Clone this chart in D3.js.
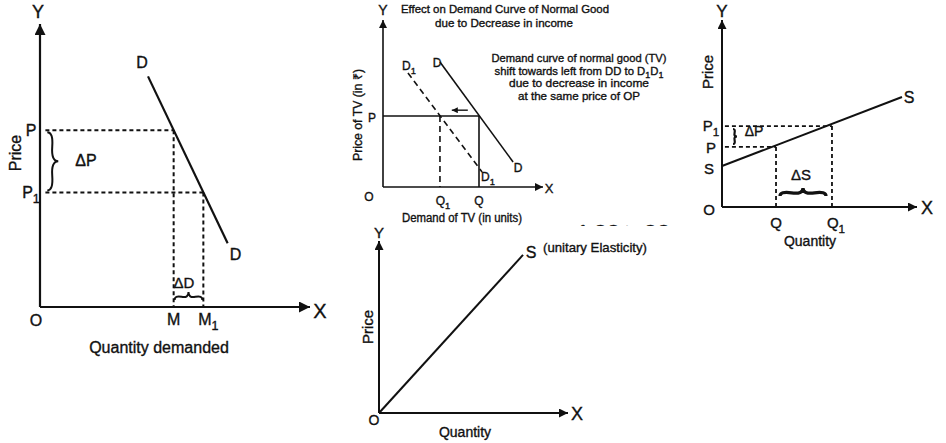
<!DOCTYPE html>
<html><head><meta charset="utf-8">
<script src="https://cdn.jsdelivr.net/npm/d3@7"></script>
<style>
html,body{margin:0;padding:0;background:#fff;}
svg{display:block;}
text{font-family:"Liberation Sans",Arial,Helvetica,sans-serif;fill:#111;stroke:#111;stroke-width:0.35px;}
</style></head>
<body><svg id="c" width="946" height="443"></svg>
<script>
// ---------- DATA ----------
// Panel 1: price elasticity of demand
const demandLine = [{q:4.0,p:8.15},{q:6.95,p:2.25}];
const demandPrices = [{label:"P",sub:"",p:6.25,q:4.95},{label:"P",sub:"1",p:4.05,q:6.05}];
const demandQtyLabels = [{label:"M",sub:"",q:4.95},{label:"M",sub:"1",q:6.05}];
// Panel 2: demand shift of a normal good
const demandDD = [{q:3.56,p:7.49},{q:8.13,p:1.5}];
const demandD1D1 = [{q:1.56,p:6.83},{q:6.19,p:0.9}];
const tvPrice = 4.25;
const tvQty = [{label:"Q",sub:"1",q:3.56},{label:"Q",sub:"",q:6.0}];
const shiftArrow = [{q:5.3,p:4.6},{q:4.3,p:4.6}];
const titleLines = ["Effect on Demand Curve of Normal Good","due to Decrease in income"];
const noteLines = ["Demand curve of normal good (TV)","shift towards left from DD to D\u2081D\u2081","due to decrease in income","at the same price of OP"];
// Panel 3: supply elasticity
const supplyLine = [{q:0,p:2.19},{q:9.23,p:5.88}];
const supplyPrices = [{label:"P",sub:"1",p:4.33,q:5.64},{label:"P",sub:"",p:3.21,q:2.77}];
const supplyQtyLabels = [{label:"Q",sub:"",q:2.77},{label:"Q",sub:"1",q:5.64}];
// Panel 4: unitary elasticity supply
const unitarySupply = [{q:0,p:0},{q:7.62,p:9.19}];

// ---------- SETUP ----------
const svg = d3.select("#c");
const ink = "#111";
const defs = svg.append("defs");
function marker(id, w, h){
  defs.append("marker").attr("id",id).attr("viewBox","0 0 10 10")
    .attr("refX",10).attr("refY",5).attr("markerUnits","userSpaceOnUse")
    .attr("markerWidth",w).attr("markerHeight",h).attr("orient","auto")
    .append("path").attr("d","M0,0 L10,5 L0,10 Z").attr("fill",ink);
}
marker("arrBig",15,11); marker("arrMed",13,9); marker("arrSmall",11,8); marker("arrTiny",8,6);
defs.append("clipPath").attr("id","cut").append("rect").attr("x",520).attr("y",0).attr("width",200).attr("height",226);

function txt(g,x,y,main,sub,size,anchor,extra){
  const t = g.append("text").attr("x",x).attr("y",y).attr("font-size",size)
    .attr("text-anchor",anchor||"middle");
  t.append("tspan").text(main);
  if(sub) t.append("tspan").attr("font-size",size*0.78).attr("dy",size*0.3).text(sub);
  if(extra) extra(t);
  return t;
}
function brace(x1,y1,x2,y2,w,q){
  q = q||0.6;
  let dx=x1-x2, dy=y1-y2; const len=Math.sqrt(dx*dx+dy*dy); dx/=len; dy/=len;
  const qx1=x1+q*w*dy, qy1=y1-q*w*dx;
  const qx2=(x1-.25*len*dx)+(1-q)*w*dy, qy2=(y1-.25*len*dy)-(1-q)*w*dx;
  const tx1=(x1-.5*len*dx)+w*dy, ty1=(y1-.5*len*dy)-w*dx;
  const qx3=x2+q*w*dy, qy3=y2-q*w*dx;
  const qx4=(x1-.75*len*dx)+(1-q)*w*dy, qy4=(y1-.75*len*dy)-(1-q)*w*dx;
  return `M${x1},${y1} Q${qx1},${qy1} ${qx2},${qy2} T${tx1},${ty1} M${x2},${y2} Q${qx3},${qy3} ${qx4},${qy4} T${tx1},${ty1}`;
}
function axes(g,x,y,sw,mk){
  g.append("line").attr("x1",x(0)).attr("y1",y(0)).attr("x2",x(0)).attr("y2",y(10))
    .attr("stroke",ink).attr("stroke-width",sw).attr("marker-end",`url(#${mk})`);
  g.append("line").attr("x1",x(0)).attr("y1",y(0)).attr("x2",x(10)).attr("y2",y(0))
    .attr("stroke",ink).attr("stroke-width",sw).attr("marker-end",`url(#${mk})`);
}
function seg(g,x,y,data,sw,dash){
  const l = d3.line().x(d=>x(d.q)).y(d=>y(d.p));
  return g.append("path").attr("d",l(data)).attr("fill","none").attr("stroke",ink)
    .attr("stroke-width",sw).attr("stroke-dasharray",dash||null);
}

// ---------- PANEL 1 ----------
{
  const g = svg.append("g");
  const x = d3.scaleLinear().domain([0,10]).range([40,310]);
  const y = d3.scaleLinear().domain([0,10]).range([307,24]);
  axes(g,x,y,2.2,"arrBig");
  seg(g,x,y,demandLine,2.2);
  demandPrices.forEach(d=>{
    seg(g,x,y,[{q:0.2,p:d.p},{q:d.q,p:d.p}],2,"4,3");
    seg(g,x,y,[{q:d.q,p:d.p},{q:d.q,p:0}],2,"4,3");
    txt(g,x(0)-9,y(d.p)+6,d.label,d.sub,16,"middle");
  });
  demandQtyLabels.forEach(d=>txt(g,x(d.q)+(d.sub?5:0),325,d.label,d.sub,16,"middle"));
  g.append("path").attr("d",brace(x(0.27),y(demandPrices[0].p)+2,x(0.27),y(demandPrices[1].p)-2,-11,0.55))
    .attr("fill","none").attr("stroke",ink).attr("stroke-width",2);
  txt(g,86,166,"\u0394P","",16,"middle");
  g.append("path").attr("d",brace(x(demandQtyLabels[0].q)+1,300,x(demandQtyLabels[1].q)-1,300,-8,0.6))
    .attr("fill","none").attr("stroke",ink).attr("stroke-width",2);
  txt(g,184,288,"\u0394D","",15,"middle");
  txt(g,x(demandLine[0].q)-6,68,"D","",16,"middle");
  txt(g,x(demandLine[1].q)+8,260,"D","",16,"middle");
  txt(g,x(0)-2,18,"Y","",18,"middle");
  txt(g,320,318,"X","",20,"middle");
  txt(g,36,326,"O","",16,"middle");
  txt(g,159,353,"Quantity demanded","",16,"middle");
  txt(g,0,0,"Price","",16,"middle",t=>t.attr("transform","translate(21,153) rotate(-90)"));
}

// ---------- PANEL 2 ----------
{
  const g = svg.append("g");
  const x = d3.scaleLinear().domain([0,10]).range([383,543]);
  const y = d3.scaleLinear().domain([0,10]).range([187,20]);
  axes(g,x,y,1.6,"arrSmall");
  seg(g,x,y,[{q:0,p:tvPrice},{q:tvQty[1].q,p:tvPrice}],1.6);
  seg(g,x,y,[{q:tvQty[1].q,p:tvPrice},{q:tvQty[1].q,p:0}],1.6);
  seg(g,x,y,[{q:tvQty[0].q,p:tvPrice},{q:tvQty[0].q,p:0}],1.6,"6,4");
  seg(g,x,y,demandDD,1.6);
  seg(g,x,y,demandD1D1,1.6,"6,4");
  seg(g,x,y,shiftArrow,1.4).attr("marker-end","url(#arrTiny)");
  tvQty.forEach(d=>txt(g,x(d.q)+(d.sub?3:0),205,d.label,d.sub,12,"middle"));
  txt(g,372,122,"P","",12,"middle");
  txt(g,369,201,"O","",12,"middle");
  txt(g,383,15,"Y","",14,"middle");
  txt(g,549,193,"X","",13,"middle");
  txt(g,437,67,"D","",12,"middle");
  txt(g,409,70,"D","1",12,"middle");
  txt(g,518,172,"D","",12,"middle");
  txt(g,488,181,"D","1",12,"middle");
  txt(g,462,222,"Demand of TV (in units)","",12,"middle",t=>t.attr("textLength",120).attr("lengthAdjust","spacingAndGlyphs"));
  txt(g,0,0,"Price of TV (in \u20b9)","",12,"middle",t=>t.attr("transform","translate(362,115) rotate(-90)").attr("textLength",92).attr("lengthAdjust","spacingAndGlyphs"));
  const tw=[208,138];
  titleLines.forEach((s,i)=>txt(g,[505,504][i],13+i*13.5,s,"",11.5,"middle",t=>t.attr("textLength",tw[i]).attr("lengthAdjust","spacingAndGlyphs")));
  const nw=[175,null,140,122];
  noteLines.forEach((s,i)=>{
    const t = svg.append("text").attr("x",579).attr("y",62+i*12.7).attr("font-size",11.3).attr("text-anchor","middle");
    if(i===1){
      t.append("tspan").text("shift towards left from DD to D");
      t.append("tspan").attr("font-size",9).attr("dy",3).text("1");
      t.append("tspan").attr("dy",-3).text("D");
      t.append("tspan").attr("font-size",9).attr("dy",3).text("1");
    } else {
      t.text(s).attr("textLength",nw[i]).attr("lengthAdjust","spacingAndGlyphs");
    }
  });
  // partially hidden line of text cut by the lower figure
  svg.append("text").attr("x",605).attr("y",237).attr("font-size",17).attr("fill","#222")
    .attr("text-anchor","middle").attr("clip-path","url(#cut)").text("· · ı ı ʃ·   OQ to OQ");
}

// ---------- PANEL 3 ----------
{
  const g = svg.append("g");
  const x = d3.scaleLinear().domain([0,10]).range([722,917]);
  const y = d3.scaleLinear().domain([0,10]).range([207,20]);
  axes(g,x,y,2,"arrMed");
  seg(g,x,y,supplyLine,2);
  supplyPrices.forEach(d=>{
    seg(g,x,y,[{q:0.15,p:d.p},{q:d.q,p:d.p}],1.8,"4,3");
    seg(g,x,y,[{q:d.q,p:d.p},{q:d.q,p:0}],1.8,"4,3");
  });
  txt(g,711,131,"P","1",15,"middle");
  txt(g,711,153,"P","",15,"middle");
  txt(g,709,174,"S","",15,"middle");
  txt(g,709,215,"O","",15,"middle");
  supplyQtyLabels.forEach(d=>txt(g,x(d.q)+(d.sub?4:0),228,d.label,d.sub,15,"middle"));
  txt(g,909,103,"S","",16,"middle");
  txt(g,722,17,"Y","",17,"middle");
  txt(g,927,214,"X","",18,"middle");
  txt(g,810,246,"Quantity","",14,"middle");
  txt(g,0,0,"Price","",15,"middle",t=>t.attr("transform","translate(713,72) rotate(-90)"));
  g.append("path").attr("d",brace(733,129,733,144,-4,0.6)).attr("fill","none").attr("stroke",ink).attr("stroke-width",2.2);
  txt(g,754,136,"\u0394P","",14,"middle");
  g.append("path").attr("d",brace(780,196,826,196,-8,0.6)).attr("fill","none").attr("stroke",ink).attr("stroke-width",3.2);
  txt(g,801,180,"\u0394S","",15,"middle");
}

// ---------- PANEL 4 ----------
{
  const g = svg.append("g");
  const x = d3.scaleLinear().domain([0,10]).range([379,568]);
  const y = d3.scaleLinear().domain([0,10]).range([413,241]);
  axes(g,x,y,2,"arrMed");
  seg(g,x,y,unitarySupply,2);
  txt(g,531,258,"S","",16,"middle");
  txt(g,595,252,"(unitary Elasticity)","",13,"middle",t=>t.attr("textLength",104).attr("lengthAdjust","spacingAndGlyphs"));
  txt(g,379,238,"Y","",15,"middle");
  txt(g,577,420,"X","",18,"middle");
  txt(g,374,425,"O","",14,"middle");
  txt(g,465,437,"Quantity","",14,"middle");
  txt(g,0,0,"Price","",15,"middle",t=>t.attr("transform","translate(373,327) rotate(-90)"));
}
</script></body></html>
